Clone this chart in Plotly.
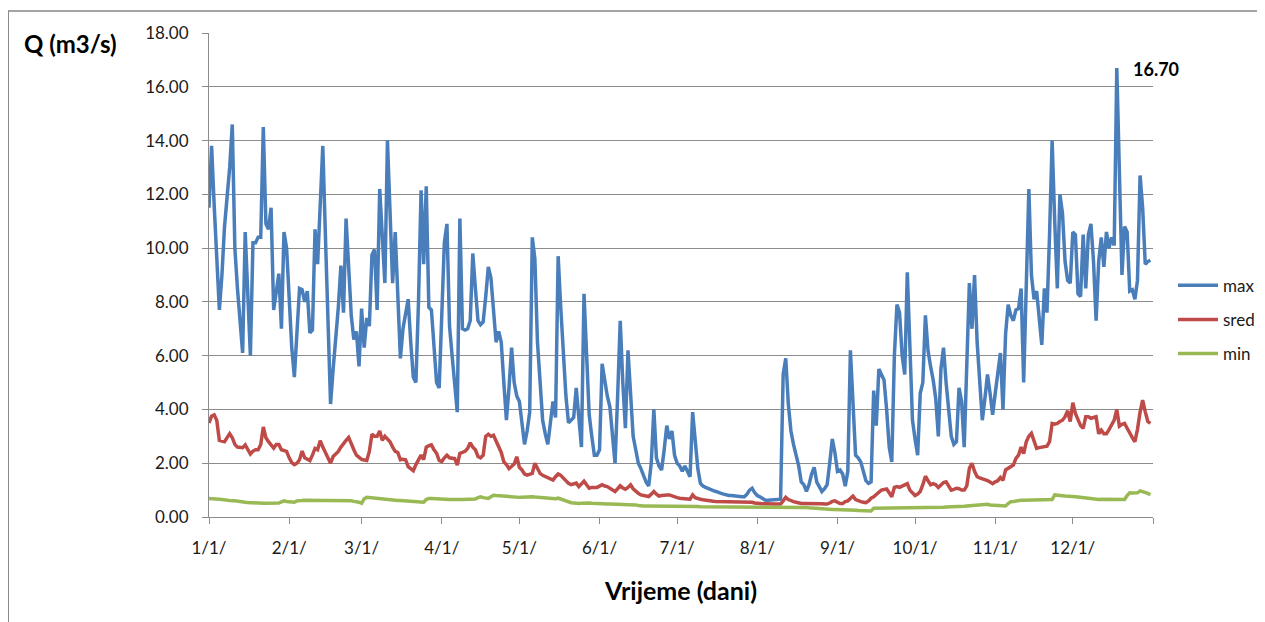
import pandas as pd
import plotly.graph_objects as go

# daily dates (one year)
dates = pd.date_range("2011-01-01", periods=365, freq="D")

q_max = [
    11.5, 13.8, 11.6, 9.5, 7.7, 9.0, 10.8, 11.9, 13.0, 14.6,
    10.0, 8.5, 7.2, 6.1, 10.6, 8.0, 6.0, 10.2, 10.2, 10.4,
    10.4, 14.5, 10.9, 10.7, 11.5, 7.7, 8.5, 9.05, 7.0, 10.6,
    10.0, 7.8, 6.3, 5.2, 7.0, 8.5, 8.45, 8.0, 8.4, 6.85,
    6.95, 10.7, 9.4, 11.5, 13.8, 10.5, 7.3, 4.2, 5.5, 6.5,
    7.8, 9.35, 7.6, 11.1, 9.0, 7.5, 6.6, 6.9, 5.6, 7.75,
    6.3, 7.4, 7.1, 9.75, 9.95, 7.7, 12.2, 10.55, 8.7, 14.0,
    11.5, 8.7, 10.6, 8.0, 5.9, 7.0, 7.6, 8.1, 6.5, 5.2,
    5.0, 8.0, 12.15, 9.4, 12.3, 7.8, 7.7, 6.5, 5.0, 4.8,
    7.5, 10.2, 10.9, 7.1, 6.0, 4.8, 3.9, 11.1, 7.0, 6.95,
    7.0, 7.3, 9.8, 8.5, 7.3, 7.15, 7.25, 8.2, 9.3, 8.9,
    7.8, 6.5, 6.9, 6.5, 5.0, 3.6, 4.8, 6.3, 5.0, 4.5,
    4.3, 3.5, 2.7, 3.2, 3.9, 10.4, 9.6, 6.5, 4.8, 3.6,
    3.1, 2.7, 3.5, 4.3, 3.7, 9.7, 7.8, 6.0, 4.5, 3.5,
    3.6, 3.7, 4.8, 3.8, 2.6, 8.3, 6.0, 3.8, 3.0, 2.3,
    2.3, 2.5, 5.7, 5.0, 4.5, 4.1, 3.0, 2.0, 4.5, 7.3,
    5.0, 3.3, 6.2, 4.5, 3.0, 2.5, 2.0, 1.8, 1.5, 1.3,
    1.15, 2.0, 4.0, 2.2, 1.9, 1.75, 2.5, 3.4, 2.9, 3.2,
    2.3, 2.0, 1.9, 1.7, 1.9, 1.7, 1.5, 3.9, 3.0, 1.8,
    1.25, 1.15, 1.1, 1.05, 1.0, 0.98, 0.95, 0.9, 0.88, 0.85,
    0.82, 0.8, 0.8, 0.78, 0.78, 0.76, 0.75, 0.75, 0.85, 1.0,
    1.07, 0.9, 0.8, 0.75, 0.68, 0.63, 0.62, 0.63, 0.62, 0.64,
    0.65, 0.66, 5.3, 5.9, 4.2, 3.2, 2.7, 2.3, 1.9, 1.3,
    1.2, 0.95, 1.2, 1.6, 1.85, 1.3, 1.1, 0.95, 1.05, 1.2,
    2.0, 2.9, 2.4, 1.7, 1.75, 1.6, 1.15, 1.7, 6.2, 4.3,
    2.3, 2.2, 2.05, 1.7, 1.35, 1.25, 1.3, 4.7, 3.4, 5.5,
    5.3, 5.1, 4.0, 2.6, 2.05, 6.0, 7.9, 7.6, 6.0, 5.3,
    9.1, 6.5, 3.6, 2.9, 2.3, 4.6, 5.0, 7.5, 6.2, 5.6,
    5.1, 4.4, 3.0, 5.5, 6.3, 5.0, 4.1, 3.0, 2.7, 2.8,
    4.8, 4.3, 2.6, 5.5, 8.7, 7.0, 9.0, 6.5, 4.8, 3.6,
    4.4, 5.3, 4.6, 3.8, 4.6, 5.5, 6.1, 4.0, 6.8, 7.9,
    7.5, 7.3, 7.7, 7.75, 8.5, 5.0, 8.5, 12.2, 9.0, 8.1,
    8.4, 7.5, 6.4, 8.5, 7.6, 10.5, 14.0, 11.0, 8.5, 12.0,
    11.3, 9.5, 8.8, 8.7, 10.6, 10.5, 8.3, 8.2, 10.5, 8.5,
    10.5, 10.9, 9.5, 7.3, 9.5, 10.4, 9.3, 10.6, 10.0, 10.4,
    10.1, 16.7, 12.5, 9.0, 10.8, 10.6, 8.4, 8.45, 8.1, 8.8,
    12.7, 11.5, 9.4, 9.5, 9.55,
]

q_sred = [
    3.5, 3.75, 3.8, 3.6, 2.85, 2.82, 2.8, 2.95, 3.1, 2.95,
    2.7, 2.6, 2.6, 2.58, 2.68, 2.5, 2.34, 2.45, 2.5, 2.5,
    2.7, 3.35, 2.95, 2.8, 2.65, 2.56, 2.7, 2.7, 2.5, 2.48,
    2.44, 2.2, 2.02, 1.95, 2.0, 2.13, 2.45, 2.2, 2.15, 2.1,
    2.3, 2.55, 2.5, 2.84, 2.6, 2.4, 2.2, 2.0, 2.25, 2.35,
    2.44, 2.6, 2.75, 2.85, 2.96, 2.68, 2.5, 2.3, 2.2, 2.14,
    2.12, 2.1, 2.44, 3.08, 3.0, 3.0, 3.2, 2.85, 3.0, 2.9,
    2.8, 2.6, 2.44, 2.4, 2.13, 2.15, 2.13, 1.87, 1.8, 1.72,
    1.95, 2.15, 2.3, 2.13, 2.6, 2.65, 2.68, 2.5, 2.37, 2.1,
    2.06, 2.2, 2.3, 2.2, 2.2, 2.17, 1.93, 2.37, 2.4, 2.44,
    2.55, 2.76, 2.6, 2.5, 2.25, 2.2, 2.3, 3.0, 3.08, 3.0,
    3.04, 2.8, 2.6, 2.4, 2.05, 1.95, 1.8, 1.9, 1.97, 2.24,
    1.85, 1.75, 1.6, 1.56, 1.6, 1.62, 2.0, 1.8, 1.62, 1.55,
    1.5, 1.45, 1.4, 1.37, 1.5, 1.6, 1.55, 1.45, 1.33, 1.25,
    1.2, 1.22, 1.26, 1.13, 1.25, 1.33, 1.2, 1.07, 1.1, 1.1,
    1.1, 1.15, 1.2, 1.15, 1.13, 1.07, 1.0, 0.95, 1.05, 1.16,
    1.08, 1.03, 1.1, 1.2, 1.05, 0.95, 0.88, 0.82, 0.8, 0.78,
    0.76, 0.85, 0.95, 0.85, 0.78, 0.8, 0.82, 0.82, 0.82, 0.78,
    0.74, 0.72, 0.7, 0.7, 0.68, 0.67, 0.66, 0.82, 0.72, 0.68,
    0.66, 0.64, 0.62, 0.6, 0.6, 0.59, 0.58, 0.58, 0.57, 0.57,
    0.57, 0.56, 0.56, 0.57, 0.56, 0.57, 0.56, 0.57, 0.57, 0.57,
    0.55, 0.52, 0.5, 0.5, 0.49, 0.49, 0.48, 0.48, 0.48, 0.48,
    0.48, 0.48, 0.6, 0.73, 0.65, 0.6, 0.57, 0.55, 0.52, 0.5,
    0.5, 0.5, 0.51, 0.52, 0.52, 0.5, 0.5, 0.49, 0.48, 0.48,
    0.52, 0.58, 0.6, 0.55, 0.5, 0.5, 0.57, 0.6, 0.7, 0.78,
    0.65, 0.6, 0.57, 0.55, 0.53, 0.6, 0.7, 0.75, 0.85, 0.92,
    1.0, 1.02, 1.04, 0.9, 0.75, 1.1, 1.13, 1.1, 1.15, 1.2,
    1.24, 1.0, 0.9, 0.8, 0.85, 0.95, 1.2, 1.52, 1.35, 1.2,
    1.24, 1.2, 1.1, 1.2, 1.28, 1.31, 1.15, 1.0, 1.03, 1.07,
    1.05, 1.0, 1.0, 1.16, 1.81, 2.0, 1.7, 1.5, 1.45, 1.42,
    1.4, 1.35, 1.3, 1.24, 1.31, 1.35, 1.47, 1.36, 1.75, 1.8,
    1.85, 1.93, 2.18, 2.3, 2.6, 2.36, 2.8, 3.0, 3.11, 2.8,
    2.55, 2.58, 2.6, 2.62, 2.63, 2.8, 3.48, 3.45, 3.48, 3.55,
    3.6, 3.73, 3.95, 3.55, 4.25, 3.85, 3.6, 3.4, 3.3, 3.73,
    3.73, 3.67, 3.7, 3.73, 3.1, 3.23, 3.1, 3.1, 3.25, 3.42,
    3.6, 4.0, 3.38, 3.45, 3.48, 3.3, 3.1, 2.95, 2.8, 3.26,
    3.9, 4.35, 3.92, 3.55, 3.48,
]

q_min = [
    0.69, 0.69, 0.68, 0.67, 0.66, 0.65, 0.63, 0.62, 0.61, 0.6,
    0.6, 0.58, 0.57, 0.56, 0.55, 0.54, 0.53, 0.52, 0.52, 0.51,
    0.51, 0.51, 0.51, 0.51, 0.51, 0.51, 0.52, 0.52, 0.56, 0.6,
    0.58, 0.57, 0.55, 0.55, 0.6, 0.62, 0.61, 0.62, 0.62, 0.62,
    0.62, 0.62, 0.61, 0.61, 0.62, 0.61, 0.6, 0.6, 0.6, 0.61,
    0.61, 0.6, 0.61, 0.62, 0.61, 0.6, 0.58, 0.57, 0.55, 0.51,
    0.68, 0.73, 0.72, 0.7, 0.69, 0.68, 0.67, 0.65, 0.64, 0.62,
    0.62, 0.62, 0.62, 0.61, 0.61, 0.6, 0.6, 0.6, 0.59, 0.58,
    0.57, 0.57, 0.56, 0.55, 0.65, 0.69, 0.69, 0.68, 0.68, 0.67,
    0.66, 0.66, 0.65, 0.65, 0.65, 0.66, 0.65, 0.65, 0.65, 0.65,
    0.65, 0.65, 0.66, 0.67, 0.72, 0.75, 0.72, 0.7, 0.69, 0.75,
    0.81, 0.8, 0.79, 0.77, 0.76, 0.75, 0.74, 0.73, 0.73, 0.72,
    0.73, 0.73, 0.74, 0.75, 0.75, 0.75, 0.74, 0.73, 0.72, 0.71,
    0.7, 0.69, 0.68, 0.66, 0.68, 0.7, 0.66, 0.62, 0.58, 0.55,
    0.53, 0.52, 0.5, 0.5, 0.51, 0.52, 0.52, 0.52, 0.51, 0.5,
    0.5, 0.49, 0.49, 0.48, 0.48, 0.48, 0.48, 0.48, 0.48, 0.48,
    0.48, 0.48, 0.48, 0.48, 0.48, 0.45, 0.43, 0.41, 0.41, 0.41,
    0.41, 0.42, 0.42, 0.42, 0.42, 0.42, 0.42, 0.42, 0.42, 0.41,
    0.41, 0.4, 0.4, 0.4, 0.39, 0.39, 0.39, 0.42, 0.4, 0.39,
    0.38, 0.38, 0.38, 0.38, 0.38, 0.38, 0.38, 0.38, 0.38, 0.38,
    0.37, 0.37, 0.37, 0.37, 0.37, 0.37, 0.37, 0.36, 0.36, 0.36,
    0.36, 0.36, 0.36, 0.36, 0.36, 0.36, 0.36, 0.36, 0.36, 0.36,
    0.36, 0.36, 0.37, 0.38, 0.37, 0.36, 0.36, 0.35, 0.35, 0.35,
    0.35, 0.35, 0.34, 0.33, 0.32, 0.32, 0.31, 0.3, 0.29, 0.28,
    0.28, 0.28, 0.28, 0.28, 0.28, 0.27, 0.27, 0.26, 0.27, 0.26,
    0.25, 0.24, 0.24, 0.23, 0.23, 0.22, 0.22, 0.33, 0.33, 0.34,
    0.34, 0.34, 0.35, 0.35, 0.35, 0.36, 0.36, 0.36, 0.36, 0.36,
    0.36, 0.35, 0.35, 0.34, 0.34, 0.34, 0.33, 0.34, 0.34, 0.35,
    0.35, 0.35, 0.36, 0.36, 0.36, 0.37, 0.37, 0.38, 0.38, 0.39,
    0.39, 0.4, 0.4, 0.41, 0.42, 0.43, 0.44, 0.45, 0.46, 0.47,
    0.48, 0.47, 0.45, 0.44, 0.43, 0.43, 0.42, 0.42, 0.41, 0.5,
    0.57, 0.58, 0.6, 0.61, 0.62, 0.62, 0.62, 0.63, 0.63, 0.63,
    0.62, 0.62, 0.62, 0.63, 0.64, 0.65, 0.65, 0.82, 0.8, 0.8,
    0.79, 0.78, 0.78, 0.77, 0.76, 0.75, 0.74, 0.73, 0.72, 0.7,
    0.68, 0.67, 0.65, 0.65, 0.65, 0.66, 0.66, 0.65, 0.65, 0.66,
    0.65, 0.65, 0.66, 0.65, 0.65, 0.8, 0.9, 0.89, 0.88, 0.9,
    0.97, 0.95, 0.93, 0.88, 0.83,
]

series_names = ["max", "sred", "min"]
series_colors = ["#4A7EBB", "#BE4B48", "#98B954"]

month_ticks = ["2011-01-01", "2011-02-01", "2011-03-01", "2011-04-01", "2011-05-01",
               "2011-06-01", "2011-07-01", "2011-08-01", "2011-09-01", "2011-10-01",
               "2011-11-01", "2011-12-01", "2012-01-01"]
month_labels = ["1/1/", "2/1/", "3/1/", "4/1/", "5/1/", "6/1/", "7/1/", "8/1/",
                "9/1/", "10/1/", "11/1/", "12/1/", ""]

y_ticks = [0, 2, 4, 6, 8, 10, 12, 14, 16, 18]
y_labels = ["0.00", "2.00", "4.00", "6.00", "8.00", "10.00", "12.00", "14.00", "16.00", "18.00"]

FONT = "Lato, 'Open Sans', sans-serif"
GRID = "#8c8c8c"

fig = go.Figure()
for name, vals, col in zip(series_names, [q_max, q_sred, q_min], series_colors):
    fig.add_trace(go.Scatter(
        x=dates, y=vals, mode="lines", name=name, legendgroup=name,
        line=dict(color=col, width=3.5),
    ))

peak_idx = q_max.index(max(q_max))
fig.add_annotation(
    x=dates[peak_idx], y=q_max[peak_idx], text="<b>%.2f</b>" % q_max[peak_idx],
    showarrow=False, xanchor="left", yanchor="middle", xshift=14, yshift=-1,
    font=dict(family=FONT, size=18, color="#000000"),
)
fig.add_annotation(
    xref="paper", yref="paper", x=-0.1465, y=0.979, text="<b>Q (m3/s)</b>",
    showarrow=False, xanchor="center", yanchor="middle",
    font=dict(family=FONT, size=24, color="#000000"),
)
fig.add_annotation(
    xref="paper", yref="paper", x=0.4997, y=-0.1508, text="<b>Vrijeme (dani)</b>",
    showarrow=False, xanchor="center", yanchor="middle",
    font=dict(family=FONT, size=25, color="#000000"),
)
# outer chart border
fig.add_shape(type="rect", xref="paper", yref="paper",
              x0=-0.2127, x1=1.15, y0=-0.25, y1=1.0455,
              line=dict(color="#868686", width=1.5), layer="below")

fig.update_layout(
    width=1257, height=614,
    margin=dict(l=201, r=112, t=25, b=105, pad=0, autoexpand=False),
    paper_bgcolor="white", plot_bgcolor="white",
    font=dict(family=FONT, size=16, color="#1a1a1a"),
    showlegend=True,
    legend=dict(x=1.0212, y=0.4075, xanchor="left", yanchor="middle",
                font=dict(family=FONT, size=17, color="#1a1a1a"),
                tracegroupgap=9, bgcolor="rgba(0,0,0,0)", itemwidth=40),
    xaxis=dict(
        type="date", range=["2011-01-01", "2012-01-01"],
        tickvals=month_ticks, ticktext=month_labels,
        showgrid=False, showline=True, linecolor=GRID, linewidth=1,
        ticks="outside", ticklen=6, tickcolor=GRID, ticklabelstandoff=10,
        tickfont=dict(family=FONT, size=17, color="#1a1a1a"),
        zeroline=False,
    ),
    yaxis=dict(
        range=[0, 18], tickvals=y_ticks, ticktext=y_labels,
        showgrid=True, gridcolor=GRID, gridwidth=1,
        showline=True, linecolor=GRID, linewidth=1,
        ticks="outside", ticklen=6, tickcolor=GRID, ticklabelstandoff=10,
        tickfont=dict(family=FONT, size=17, color="#1a1a1a"),
        zeroline=False,
    ),
)

fig.write_html("out.html")
